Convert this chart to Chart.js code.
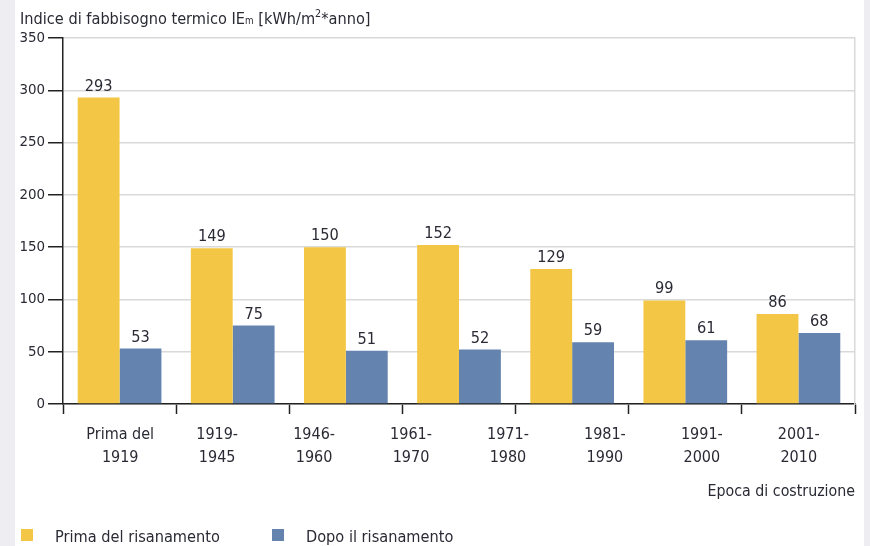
<!DOCTYPE html>
<html>
<head>
<meta charset="utf-8">
<script src="https://cdn.jsdelivr.net/npm/chart.js@4/dist/chart.umd.min.js"></script>
<style>
    body { margin: 0; background: #ededf2; }
    #wrap { width: 870px; height: 546px; position: relative; }
    #chart {
        background: linear-gradient(to right, #ededf2 15px, #fff 15px, #fff 864px, #ededf2 864px);
    }
</style>
</head>
<body>
<div id="wrap"><canvas id="chart" width="870" height="546"></canvas></div>
<script>
// dati (7 gruppi di barre, 8 etichette come nell'originale)
var gruppi = ["1", "2", "3", "4", "5", "6", "7"];
var categories = [["Prima del", "1919"], ["1919-", "1945"], ["1946-", "1960"], ["1961-", "1970"],
    ["1971-", "1980"], ["1981-", "1990"], ["1991-", "2000"], ["2001-", "2010"]];
var primaRisanamento = [293, 149, 150, 152, 129, 99, 86];
var dopoRisanamento = [53, 75, 51, 52, 59, 61, 68];
var yTicks = [0, 50, 100, 150, 200, 250, 300, 350];

var TXT = "#2a2a35";
var YELLOW = "#f3c745";
var BLUE = "#6484af";

// cerca un font stretto installato
function hasFont(name) {
    var c = document.createElement('canvas').getContext('2d');
    var s = "Prima del risanamento 1919";
    var res = false;
    ["monospace", "serif"].forEach(function(fb) {
        c.font = "40px " + fb;
        var a = c.measureText(s).width;
        c.font = "40px '" + name + "', " + fb;
        if (c.measureText(s).width !== a) res = true;
    });
    return res;
}
var FONT = "'Liberation Sans', sans-serif";
["Liberation Sans Narrow", "DejaVu Sans Condensed", "Roboto Condensed"].some(function(f) {
    if (hasFont(f)) { FONT = "'" + f + "', sans-serif"; return true; }
    return false;
});
var K = (function() {
    var c = document.createElement('canvas').getContext('2d');
    c.font = "19px " + FONT;
    return 165 / c.measureText("Prima del risanamento").width;
})();
function fs(n) { return Math.round(n * K * 10) / 10; }

var grafik = {
    // etichette sopra le barre
    valori: {
        id: 'valori',
        afterDatasetsDraw: function(chart) {
            var ctx = chart.ctx;
            ctx.save();
            ctx.font = fs(19) + "px " + FONT;
            ctx.fillStyle = TXT;
            ctx.textAlign = "center";
            ctx.textBaseline = "alphabetic";
            chart.data.datasets.forEach(function(ds, i) {
                chart.getDatasetMeta(i).data.forEach(function(bar, j) {
                    if (ds.data[j] == null) return;
                    ctx.fillText(ds.data[j], bar.x, bar.y - 7);
                });
            });
            ctx.restore();
        }
    },
    // titolo asse y e legenda
    testi: {
        id: 'testi',
        afterDraw: function(chart) {
            var ctx = chart.ctx;
            ctx.save();
            ctx.fillStyle = TXT;
            ctx.textBaseline = "alphabetic";
            ctx.textAlign = "left";
            var x = 20, y = 24;
            var parts = [
                ["Indice di fabbisogno termico IE", 19, 0],
                ["m", 11.5, 0],
                [" [kWh/m", 19, 0],
                ["2", 12.5, -7],
                ["*anno]", 19, 0]
            ];
            parts.forEach(function(p) {
                ctx.font = fs(p[1]) + "px " + FONT;
                ctx.fillText(p[0], x, y + p[2]);
                x += ctx.measureText(p[0]).width;
            });

            // legenda
            ctx.font = fs(19) + "px " + FONT;
            var items = [[21, 55, YELLOW, chart.data.datasets[0].label],
                         [272, 306, BLUE, chart.data.datasets[1].label]];
            items.forEach(function(it) {
                ctx.fillStyle = it[2];
                ctx.fillRect(it[0], 529, 12, 12);
                ctx.fillStyle = TXT;
                ctx.fillText(it[3], it[1], 542);
            });
            ctx.restore();
        }
    },
    init: function() {
        var ctx = document.getElementById("chart");
        var data = {
            labels: gruppi,
            datasets: [
                {
                    label: "Prima del risanamento",
                    backgroundColor: YELLOW,
                    data: primaRisanamento,
                    categoryPercentage: 0.74,
                    barPercentage: 1.0
                },
                {
                    label: "Dopo il risanamento",
                    backgroundColor: BLUE,
                    data: dopoRisanamento,
                    categoryPercentage: 0.74,
                    barPercentage: 1.0
                }
            ]
        };

        new Chart(ctx, {
            type: 'bar',
            data: data,
            options: {
                responsive: false,
                animation: false,
                layout: { padding: { top: 38, right: 15, bottom: 0, left: 0 } },
                plugins: {
                    legend: { display: false },
                    tooltip: { enabled: false }
                },
                scales: {
                    x: {
                        weight: 0,
                        afterFit: function(scale) { scale.height = 0; },
                        grid: {
                            drawOnChartArea: false,
                            tickLength: 10,
                            tickColor: "#222",
                            tickWidth: 1.5,
                            offset: true
                        },
                        border: { color: "#222", width: 1.5 },
                        ticks: { display: false }
                    },
                    // asse delle etichette (8 epoche)
                    xl: {
                        type: 'linear',
                        position: 'bottom',
                        weight: 1,
                        offset: false,
                        min: -0.59,
                        max: 7.58,
                        afterFit: function(scale) { scale.height = 142; },
                        afterBuildTicks: function(scale) {
                            scale.ticks = categories.map(function(c, i) { return { value: i }; });
                        },
                        grid: { display: false, offset: false },
                        border: { display: false },
                        ticks: {
                            color: TXT,
                            padding: 12,
                            maxRotation: 0,
                            autoSkip: false,
                            font: { family: FONT, size: fs(18.8), lineHeight: 1.4 },
                            callback: function(v) { return categories[v]; }
                        },
                        title: {
                            display: true,
                            text: "Epoca di costruzione",
                            align: "end",
                            color: TXT,
                            font: { family: FONT, size: fs(18.5) },
                            padding: { top: 0, bottom: 45 }
                        }
                    },
                    y: {
                        min: 0,
                        max: 350,
                        afterFit: function(scale) { scale.width = 63; },
                        afterBuildTicks: function(scale) {
                            scale.ticks = yTicks.map(function(v) { return { value: v }; });
                        },
                        grid: {
                            color: "#d9d9d9",
                            lineWidth: 1.5,
                            tickColor: "#222",
                            tickWidth: 1.5,
                            tickLength: 15
                        },
                        border: { color: "#222", width: 1.5 },
                        ticks: {
                            color: TXT,
                            padding: 3,
                            font: { family: FONT, size: fs(17.5) }
                        }
                    },
                    y2: {
                        position: "right",
                        min: 0,
                        max: 350,
                        afterFit: function(scale) { scale.width = 0; },
                        grid: { display: false, drawTicks: false },
                        border: { color: "#d9d9d9", width: 1.5 },
                        ticks: { display: false }
                    }
                }
            },
            plugins: [grafik.valori, grafik.testi]
        });
    }
};

grafik.init();
</script>
</body>
</html>
